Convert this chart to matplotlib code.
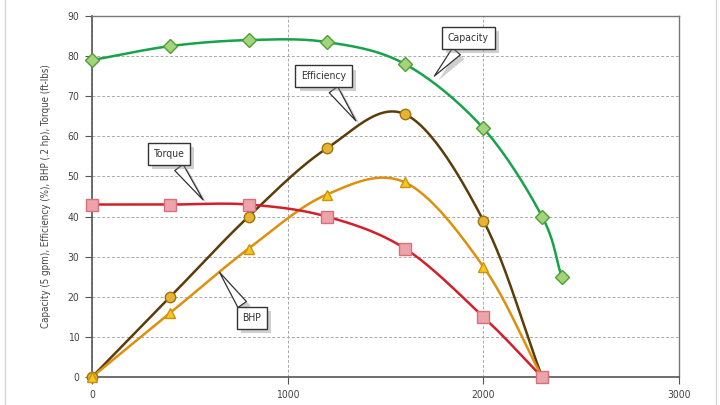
import numpy as np
import matplotlib.pyplot as plt
import matplotlib.patheffects as pe
from matplotlib.lines import Line2D

speed = [0, 400, 800, 1200, 1600, 2000, 2300]
capacity_x = [0, 400, 800, 1200, 1600, 2000, 2300, 2400]
capacity = [79, 82.5, 84, 83.5, 78, 62, 40, 25]
efficiency = [0, 20, 40, 57, 65.5, 39, 0]
bhp = [0, 16, 32, 45.5, 48.5, 27.5, 0]
torque = [43, 43, 43, 40, 32, 15, 0]


def smooth(x, y, n=30):
    # catmull-rom style curve through the points, like a spreadsheet "smoothed line"
    x = np.asarray(x, float)
    y = np.asarray(y, float)
    px = np.concatenate([[2 * x[0] - x[1]], x, [2 * x[-1] - x[-2]]])
    py = np.concatenate([[2 * y[0] - y[1]], y, [2 * y[-1] - y[-2]]])
    xs, ys = [], []
    t = np.linspace(0, 1, n)
    for i in range(1, len(px) - 2):
        for p, out in ((px, xs), (py, ys)):
            p0, p1, p2, p3 = p[i - 1], p[i], p[i + 1], p[i + 2]
            out.extend(0.5 * (2 * p1 + (-p0 + p2) * t
                              + (2 * p0 - 5 * p1 + 4 * p2 - p3) * t ** 2
                              + (-p0 + 3 * p1 - 3 * p2 + p3) * t ** 3))
    return xs, ys


fig = plt.figure(figsize=(7.2, 4.05), dpi=100)
ax = fig.add_axes([0.1278, 0.0691, 0.8153, 0.8914])

series = [
    (capacity_x, capacity, '#17a34a', 'D', '#a3d47c', '#4f9e36', 7),
    (speed, efficiency, '#5c3c08', 'o', '#e6b332', '#9c7412', 7.5),
    (speed, bhp, '#df8f0c', '^', '#f7c81c', '#cf920e', 7.5),
    (speed, torque, '#d31f2c', 's', '#eda3aa', '#d8707c', 8),
]
for xv, yv, lc, mk, mf, me, ms in series:
    sx, sy = smooth(xv, yv)
    ax.plot(sx, sy, color=lc, lw=1.8, zorder=3, clip_on=False)
    ax.plot(xv, yv, ls='none', marker=mk, ms=ms, mfc=mf, mec=me, mew=1, zorder=4, clip_on=False)

ax.set_xlim(0, 3000)
ax.set_ylim(0, 90)
ax.set_xticks([0, 1000, 2000, 3000])
ax.set_yticks(range(0, 91, 10))
ax.grid(True, color='#aaaaaa', ls=(0, (3, 2)), lw=0.7)
ax.set_axisbelow(True)
for s in ['left', 'bottom']:
    ax.spines[s].set_color('#555555')
    ax.spines[s].set_linewidth(1.2)
for s in ['top', 'right']:
    ax.spines[s].set_color('#777777')
    ax.spines[s].set_linewidth(1.0)
ax.tick_params(axis='y', length=5, color='#555555', labelsize=7.5, labelcolor='#444444', pad=4)
ax.tick_params(axis='x', length=5, color='#555555', labelsize=7.5, labelcolor='#444444', pad=4)
for lab in ax.get_xticklabels() + ax.get_yticklabels():
    lab.set_fontstretch('condensed')
ax.set_ylabel('Capacity (5 gpm), Efficiency (%), BHP (.2 hp), Torque (ft-lbs)',
              fontsize=7, color='#444444', labelpad=12, fontstretch='condensed')

callouts = [
    ('Capacity', (1923, 84.5), (1740, 74.5)),
    ('Efficiency', (1184, 75), (1357, 63.3)),
    ('Torque', (393, 55.6), (576, 43.6)),
    ('BHP', (816, 14.7), (643, 26.7)),
]
shadow = [pe.SimplePatchShadow(offset=(3, -3), shadow_rgbFace='#888888', alpha=0.4), pe.Normal()]
for text, box, tip in callouts:
    an = ax.annotate(text, xy=tip, xytext=box, ha='center', va='center',
                     fontsize=7.5, color='#333333', fontstretch='condensed', zorder=6,
                     bbox=dict(boxstyle='square,pad=0.55', fc='white', ec='#333333', lw=1),
                     arrowprops=dict(arrowstyle='wedge,tail_width=1.0,shrink_factor=0.5',
                                     fc='white', ec='#333333', lw=0.9))
    an.get_bbox_patch().set_path_effects(shadow)
    an.arrow_patch.set_path_effects(shadow)

for xx in (0.007, 0.994):
    fig.add_artist(Line2D([xx, xx], [0, 1], transform=fig.transFigure, color='#d8d8d8', lw=1))

fig.savefig('out.png', dpi=100)
